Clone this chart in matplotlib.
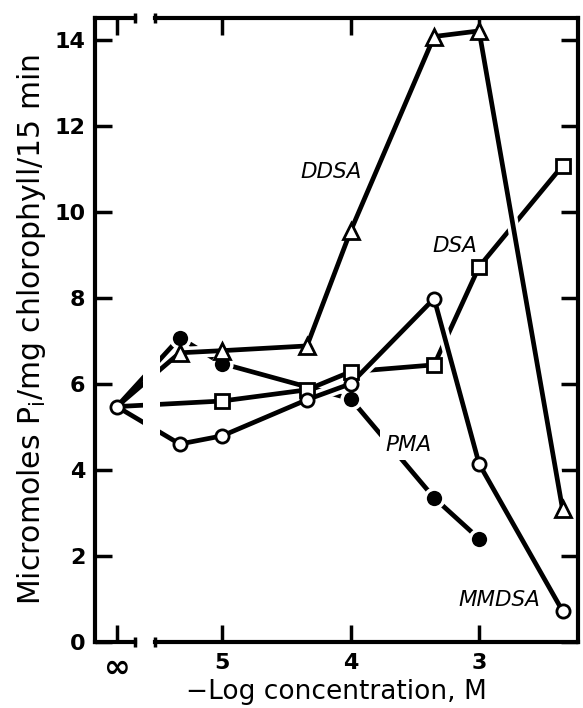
import matplotlib
matplotlib.use('Agg')
import matplotlib.pyplot as plt
import matplotlib.patheffects as pe

# ---------------- data ----------------
control_x = 5.82          # plotting position of the "∞" (no inhibitor) point
control_y = 5.47

ddsa_x = [5.33, 5.0, 4.34, 4.0, 3.35, 3.0, 2.35]
ddsa_y = [6.72, 6.77, 6.88, 9.55, 14.07, 14.2, 3.08]

dsa_x = [5.0, 4.34, 4.0, 3.35, 3.0, 2.35]
dsa_y = [5.60, 5.86, 6.28, 6.44, 8.72, 11.07]

pma_x = [5.33, 5.0, 4.0, 3.35, 3.0]
pma_y = [7.07, 6.47, 5.65, 3.35, 2.40]

mmdsa_x = [5.33, 5.0, 4.34, 4.0, 3.35, 3.0, 2.35]
mmdsa_y = [4.60, 4.79, 5.63, 6.00, 7.98, 4.14, 0.72]

xtick_pos = [control_x, 5, 4, 3]
xtick_labels = ['∞', '5', '4', '3']
ytick_pos = [0, 2, 4, 6, 8, 10, 12, 14]
ytick_labels = ['0', '2', '4', '6', '8', '10', '12', '14']

series_names = ['DDSA', 'DSA', 'PMA', 'MMDSA']

# ---------------- figure ----------------
W, H = 583, 708
fig = plt.figure(figsize=(W / 100, H / 100), dpi=100)
ax = fig.add_axes([95 / W, 1 - 642 / H, (578 - 95) / W, (642 - 18) / H])
ax.set_xlim(5.99, 2.23)
ax.set_ylim(0, 14.5)

LW = 3.4
halo = [pe.withStroke(linewidth=LW + 5, foreground='white')]

# connections from the control point (drawn beneath everything)
for sx, sy in [(ddsa_x, ddsa_y), (pma_x, pma_y), (dsa_x, dsa_y), (mmdsa_x, mmdsa_y)]:
    ax.plot([control_x, sx[0]], [control_y, sy[0]], color='k', lw=LW,
            solid_capstyle='butt', zorder=1)
# gap of the broken axis
ax.axvspan(5.614, 5.482, color='white', lw=0, zorder=1.2)

# series lines
ax.plot(pma_x, pma_y, color='k', lw=LW, zorder=1.5, solid_capstyle='butt')
ax.plot(dsa_x, dsa_y, color='k', lw=LW, zorder=2, solid_capstyle='butt')
ax.plot(ddsa_x, ddsa_y, color='k', lw=LW, zorder=3, path_effects=halo,
        solid_capstyle='butt')
ax.plot(mmdsa_x, mmdsa_y, color='k', lw=LW, zorder=3, path_effects=halo,
        solid_capstyle='butt')

# markers
ax.plot(ddsa_x, ddsa_y, ls='none', marker='^', ms=11.5, mfc='white', mec='k',
        mew=2.0, zorder=5)
ax.plot(dsa_x, dsa_y, ls='none', marker='s', ms=9.5, mfc='white', mec='k',
        mew=2.0, zorder=5)
ax.plot(mmdsa_x, mmdsa_y, ls='none', marker='o', ms=9.5, mfc='white', mec='k',
        mew=2.0, zorder=5)
ax.plot([control_x], [control_y], ls='none', marker='o', ms=9.5, mfc='white',
        mec='k', mew=2.0, zorder=5)
ax.plot(pma_x, pma_y, ls='none', marker='o', ms=13.5, mfc='k', mec='white',
        mew=2.5, zorder=4.5)

# series labels
lab_kw = dict(style='italic', fontsize=15.5, ha='center', va='center',
              family='DejaVu Sans')
ax.text(4.15, 10.93, series_names[0], **lab_kw)
ax.text(3.19, 9.20, series_names[1], **lab_kw)
ax.text(3.55, 4.58, series_names[2], zorder=2.5,
        bbox=dict(facecolor='white', edgecolor='none', pad=4), **lab_kw)
ax.text(2.84, 0.98, series_names[3], **lab_kw)

# ---------------- axes / broken frame ----------------
for s in ['top', 'bottom']:
    ax.spines[s].set_visible(False)
for s in ['left', 'right']:
    ax.spines[s].set_linewidth(3)

xt = ax.get_xaxis_transform()
for yy in (0, 1):
    ax.plot([5.99, 5.68], [yy, yy], transform=xt, color='k', lw=3,
            clip_on=False, solid_capstyle='projecting', zorder=6)
    ax.plot([5.52, 2.23], [yy, yy], transform=xt, color='k', lw=3,
            clip_on=False, solid_capstyle='projecting', zorder=6)
    ax.plot([5.68, 5.52], [yy, yy], transform=xt, ls='none', marker='|',
            ms=7, mew=2.5, color='k', clip_on=False, zorder=6)

ax.set_xticks(xtick_pos)
ax.set_xticklabels(xtick_labels)
ax.set_yticks(ytick_pos)
ax.set_yticklabels(ytick_labels)
ax.tick_params(axis='both', direction='in', length=12, width=2.5,
               top=True, right=True, labeltop=False, labelright=False)
ax.tick_params(axis='y', pad=7)
ax.tick_params(axis='x', pad=8)
for lbl in ax.get_xticklabels() + ax.get_yticklabels():
    lbl.set_fontfamily('DejaVu Sans')
    lbl.set_fontweight('bold')
    lbl.set_fontsize(16)
ax.get_xticklabels()[0].set_fontsize(23)

plt.rcParams['mathtext.default'] = 'regular'
ax.set_ylabel(r'Micromoles P$_{i}$/mg chlorophyll/15 min', fontsize=21.5,
              family='DejaVu Sans')
ax.yaxis.set_label_coords(-0.097, 0.5)
ax.set_xlabel('−Log concentration, M', fontsize=19, family='DejaVu Sans')
ax.xaxis.label.set_va('baseline')
ax.xaxis.set_label_coords(0.5, -0.092)

fig.savefig('out.png', dpi=100)
